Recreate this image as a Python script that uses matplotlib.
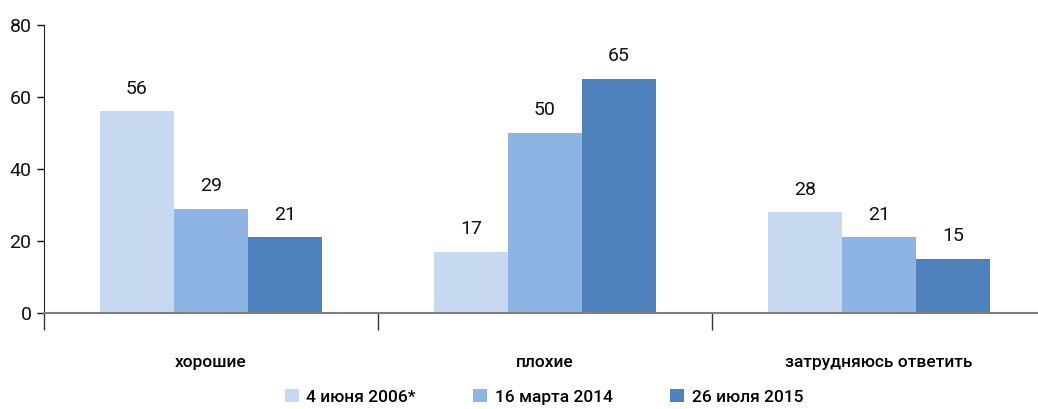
"""Grouped bar chart of survey answers across three dates."""

import matplotlib.pyplot as plt
import numpy as np
from matplotlib.patches import Patch

categories = ["хорошие", "плохие", "затрудняюсь ответить"]
series_labels = ["4 июня 2006*", "16 марта 2014", "26 июля 2015"]
values_2006 = [56, 17, 28]
values_2014 = [29, 50, 21]
values_2015 = [21, 65, 15]
y_ticks = [0, 20, 40, 60, 80]

colors = ["#C6D9F1", "#8EB4E3", "#4F81BD"]

plt.rcParams['font.family'] = ['Roboto', 'DejaVu Sans']

fig = plt.figure(figsize=(10.38, 4.09), dpi=100)
# x-range spans the three group slots; the right edge runs off the figure
ax = fig.add_axes([44 / 1038, 96 / 409, 1002 / 1038, 288 / 409])

x = np.arange(len(categories))
width = 0.2216
all_series = [values_2006, values_2014, values_2015]
for i, (vals, color) in enumerate(zip(all_series, colors)):
    pos = x + (i - 1) * width
    bars = ax.bar(pos, vals, width=width, color=color, zorder=2)
    for b, v in zip(bars, vals):
        ax.text(b.get_x() + b.get_width() / 2, v + 3.8, str(v),
                ha="center", va="bottom", fontsize=14, color="#111111")

ax.set_xlim(-0.5, 2.5)
ax.set_ylim(0, 80)
ax.set_yticks(y_ticks)
ax.tick_params(axis="y", length=5, width=1, labelsize=14, pad=4,
               colors="#111111")

# group separators as ticks, category names as minor labels
ax.set_xticks([-0.5, 0.5, 1.5, 2.5])
ax.set_xticklabels([])
ax.tick_params(axis="x", which="major", length=12, width=1, color="#333333")
ax.set_xticks(x, minor=True)
ax.set_xticklabels(categories, minor=True, fontsize=12.5, fontweight="medium")
ax.tick_params(axis="x", which="minor", length=0, pad=30)

for side in ["top", "right"]:
    ax.spines[side].set_visible(False)
ax.spines["left"].set_color("#222222")
ax.spines["bottom"].set_color("#7F7F7F")
ax.spines["bottom"].set_linewidth(1.5)
ax.spines["bottom"].set_zorder(3)

handles = [Patch(facecolor=c, edgecolor="none") for c in colors]
fig.legend(handles, series_labels, loc="center", ncol=3,
           bbox_to_anchor=(544 / 1038, 12 / 409), frameon=False,
           prop={"size": 12.5, "weight": "medium"},
           handlelength=0.8, handleheight=0.8, handletextpad=0.45,
           columnspacing=3.3)

fig.savefig("out.png", dpi=100)
